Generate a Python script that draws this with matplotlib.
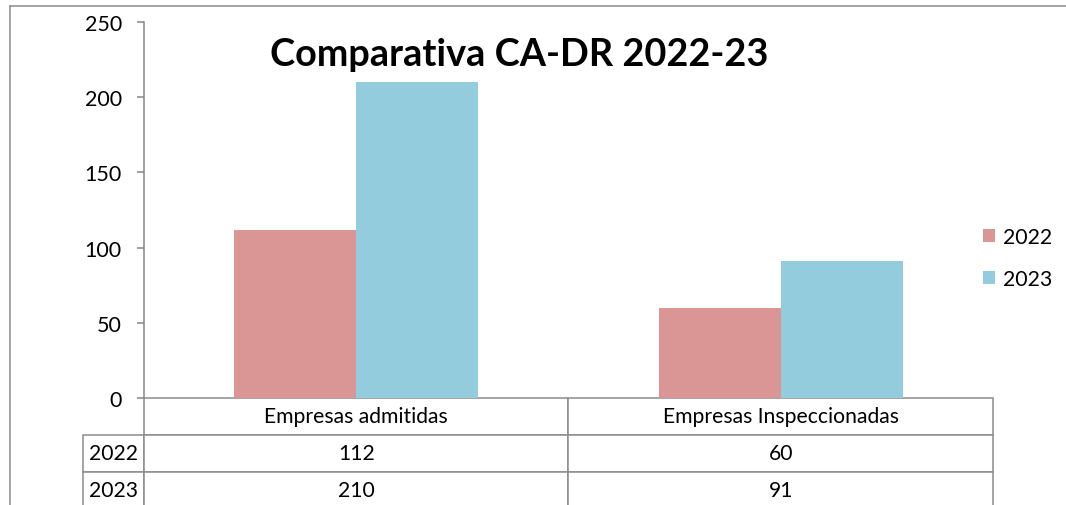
import matplotlib
matplotlib.use('Agg')
import matplotlib.pyplot as plt
from matplotlib.lines import Line2D
import numpy as np

plt.rcParams['font.family'] = ['Lato', 'DejaVu Sans']

categories = ['Empresas admitidas', 'Empresas Inspeccionadas']
years = ['2022', '2023']
values_2022 = [112, 60]
values_2023 = [210, 91]
colors = ['#D99694', '#93CDDD']
title = 'Comparativa CA-DR 2022-23'

fig = plt.figure(figsize=(10.66, 5.06), dpi=100)
ax = fig.add_axes([144 / 1066, 1 - 399 / 506, 849 / 1066, 376 / 506])

x = np.arange(len(categories))
w = 0.287
ax.bar(x - w / 2, values_2022, w, color=colors[0], label=years[0])
ax.bar(x + w / 2, values_2023, w, color=colors[1], label=years[1])

ax.set_xlim(-0.5, len(categories) - 0.5)
ax.set_ylim(0, 250)
ax.set_yticks(range(0, 251, 50))
ax.set_xticks([])
for s in ['top', 'right', 'bottom']:
    ax.spines[s].set_visible(False)
ax.spines['left'].set_color('#868686')
ax.spines['left'].set_linewidth(1.1)
ax.tick_params(axis='y', length=5, width=1.1, color='#868686', pad=11, labelsize=15.5)

# data table under the axis
cell_text = [[''] + categories,
             [years[0]] + [str(v) for v in values_2022],
             [years[1]] + [str(v) for v in values_2023]]
tab = ax.table(cellText=cell_text, colWidths=[61, 425, 425], cellLoc='center',
               bbox=[-61 / 849, -111 / 376, 910 / 849, 111 / 376])
tab.auto_set_font_size(False)
tab.set_fontsize(15.2)
for (r, c), cell in tab.get_celld().items():
    cell.set_edgecolor('#8C8C8C')
    cell.set_linewidth(1.1)
    cell.PAD = 0.02
tab[(0, 0)].visible_edges = ''

fig.text(519 / 1066, 1 - 55 / 506, title, fontsize=27.3, fontweight='bold',
         ha='center', va='center')

fig.legend(loc='center left', bbox_to_anchor=(964 / 1066, 1 - 259 / 506),
           frameon=False, fontsize=15.3, handlelength=0.55, handleheight=0.55,
           handletextpad=0.4, labelspacing=1.05)

# outer chart frame
fig.add_artist(Line2D([10 / 1066, 10 / 1066], [0, 1 - 7 / 506], color='#8C8C8C', lw=1.1))
fig.add_artist(Line2D([10 / 1066, 1], [1 - 7 / 506, 1 - 7 / 506], color='#8C8C8C', lw=1.1))

fig.savefig('out.png', dpi=100)
